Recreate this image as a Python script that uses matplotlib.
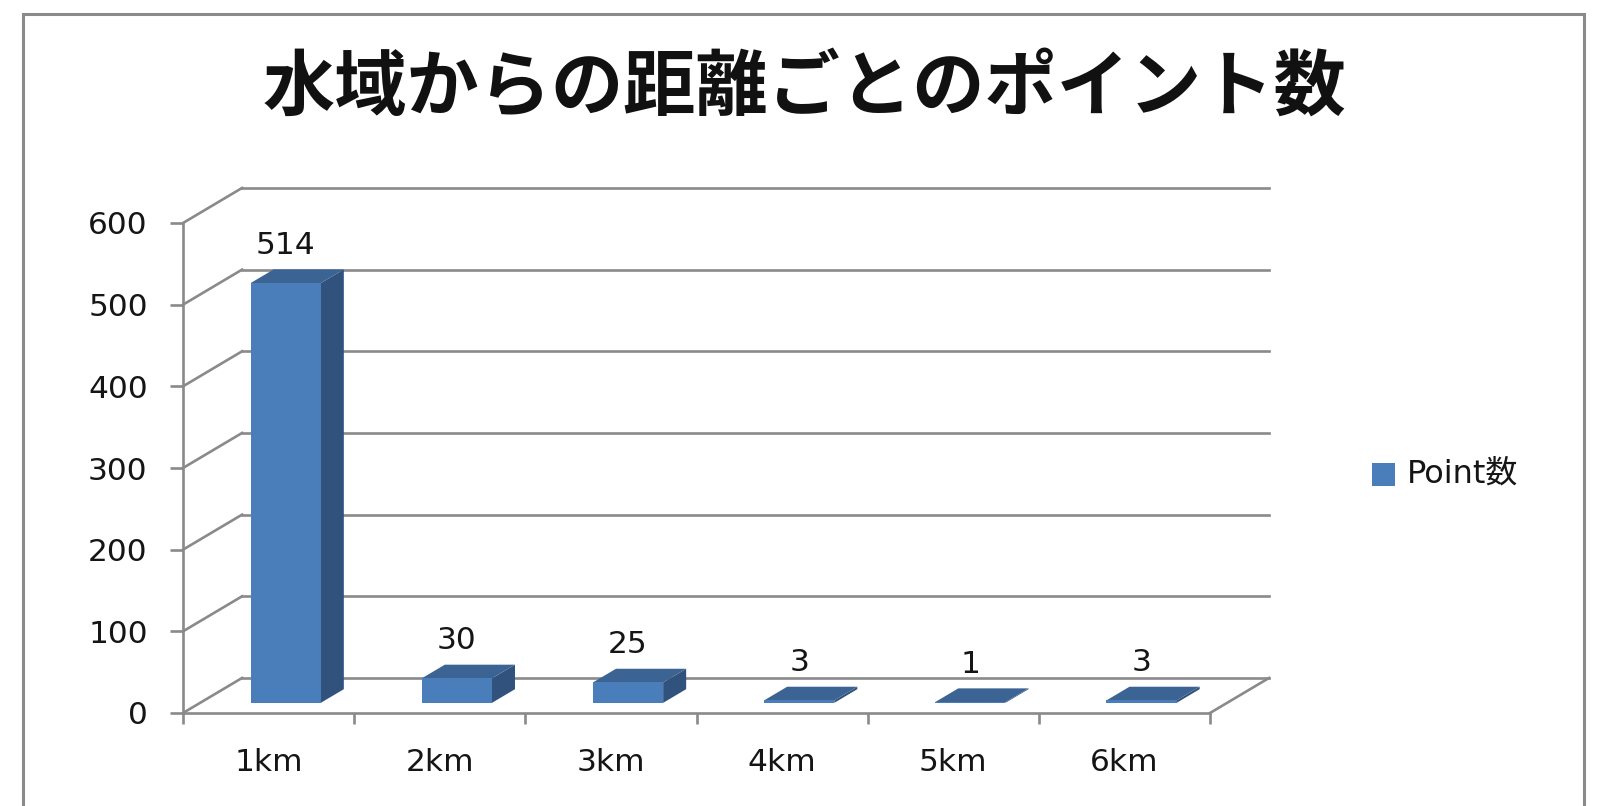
import matplotlib
matplotlib.use('Agg')
import matplotlib.pyplot as plt
from matplotlib.patches import Polygon, Rectangle
import numpy as np

plt.rcParams['font.family'] = ['DejaVu Sans', 'Noto Sans CJK JP']

# data
categories = ['1km', '2km', '3km', '4km', '5km', '6km']
values = [514, 30, 25, 3, 1, 3]
series_name = 'Point数'
title = '水域からの距離ごとのポイント数'
yticks = [0, 100, 200, 300, 400, 500, 600]

# colours
front_col = '#4A7EBB'
top_col = '#3B6494'
side_col = '#30527C'
grid_col = '#8A8A8A'
txt_col = '#151515'

fig = plt.figure(figsize=(16.08, 8.06), dpi=100)
ax = fig.add_axes([183 / 1608, 93 / 806, 1027 / 1608, 490 / 806])
ax.set_xlim(-0.5, 5.5)
ax.set_ylim(0, 600)

# depth of the 3d box in data units (back wall offset)
depth_x, depth_y = 0.345, 42.9
bar_front, bar_back = 0.29, 0.68   # bar position inside depth (fraction)
bar_w = 0.41

# back wall gridlines and side wall diagonals
for t in yticks:
    ax.plot([-0.5 + depth_x, 5.5 + depth_x], [t + depth_y, t + depth_y],
            color=grid_col, lw=1.9, clip_on=False, zorder=1)
    ax.plot([-0.5, -0.5 + depth_x], [t, t + depth_y],
            color=grid_col, lw=1.9, clip_on=False, zorder=1)
# right edge of floor
ax.plot([5.5, 5.5 + depth_x], [0, depth_y], color=grid_col, lw=1.9,
        clip_on=False, zorder=1)

# bars
for i, v in enumerate(values):
    fx, fy = bar_front * depth_x, bar_front * depth_y
    bx, by = bar_back * depth_x, bar_back * depth_y
    x0, x1 = i - bar_w / 2 + fx, i + bar_w / 2 + fx
    dx, dy = bx - fx, by - fy
    side = Polygon([(x1, fy), (x1, v + fy), (x1 + dx, v + fy + dy), (x1 + dx, fy + dy)],
                   closed=True, fc=side_col, ec='none', clip_on=False, zorder=3)
    top = Polygon([(x0, v + fy), (x1, v + fy), (x1 + dx, v + fy + dy), (x0 + dx, v + fy + dy)],
                  closed=True, fc=top_col, ec='none', clip_on=False, zorder=3)
    front = Rectangle((x0, fy), bar_w, v, fc=front_col, ec='none', clip_on=False, zorder=4)
    ax.add_patch(side)
    ax.add_patch(top)
    ax.add_patch(front)
    ax.annotate(str(v), (i + fx, v + fy), xytext=(0, 38 * 0.72), textcoords='offset points',
                ha='center', va='center', fontsize=22.5, color=txt_col, zorder=5)

# axes styling
for s in ['top', 'right']:
    ax.spines[s].set_visible(False)
for s in ['left', 'bottom']:
    ax.spines[s].set_color(grid_col)
    ax.spines[s].set_linewidth(1.9)
    ax.spines[s].set_zorder(2)
ax.set_facecolor('none')

ax.set_yticks(yticks)
ax.set_yticklabels([str(t) for t in yticks])
ax.tick_params(axis='y', length=9.4, width=1.9, color=grid_col, pad=16,
               labelsize=22.5, labelcolor=txt_col)

ax.set_xticks(np.arange(-0.5, 6, 1))
ax.set_xticklabels([])
ax.set_xticks(np.arange(len(categories)), minor=True)
ax.set_xticklabels(categories, minor=True)
ax.tick_params(axis='x', which='major', length=8, width=1.9, color=grid_col)
ax.tick_params(axis='x', which='minor', length=0, pad=25, labelsize=22.5, labelcolor=txt_col)

fig.text(0.5, 1 - 89 / 806, title, ha='center', va='center', fontsize=52,
         fontweight='bold', color='#111111', family=['Noto Sans CJK JP', 'DejaVu Sans'])

# legend
fig.patches.append(Rectangle((1372 / 1608, 1 - 486 / 806), 23 / 1608, 23 / 806,
                             transform=fig.transFigure, fc=front_col, ec='none'))
fig.text(1407 / 1608, 1 - 474 / 806, series_name, ha='left', va='center',
         fontsize=23, color=txt_col)

# chart border
fig.patches.append(Rectangle((23 / 1608, -0.1), (1584 - 23) / 1608, 1.1 - 14 / 806,
                             transform=fig.transFigure, fc='none', ec='#8A8A8A', lw=2.2))

fig.savefig('out.png', dpi=100)
